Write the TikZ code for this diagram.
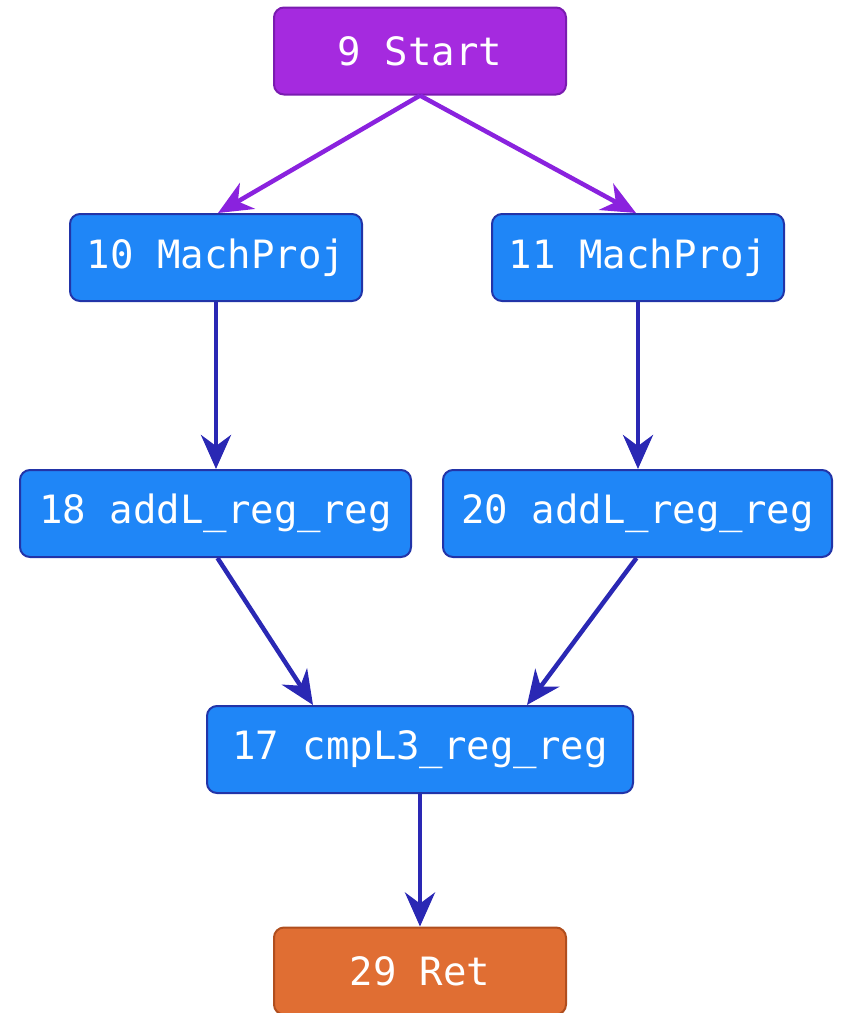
\documentclass[tikz,border=0pt]{standalone}
\usepackage{fontspec}
\setmonofont{DejaVu Sans Mono}
\usetikzlibrary{arrows.meta}
\definecolor{blockfill}{HTML}{1F86F7}
\definecolor{blockline}{HTML}{2234A8}
\definecolor{startfill}{HTML}{A52ADF}
\definecolor{startline}{HTML}{7A1CB0}
\definecolor{retfill}{HTML}{E06E33}
\definecolor{retline}{HTML}{B04E1E}
\definecolor{flowedge}{HTML}{2A28B4}
\definecolor{ctrledge}{HTML}{8A22DE}
\tikzset{
  block/.style={draw=blockline, fill=blockfill, line width=2pt, rounded corners=10pt,
    minimum height=87pt, inner sep=0pt, text=white,
    font=\ttfamily\fontsize{39}{44}\selectfont},
  startblock/.style={block, draw=startline, fill=startfill},
  retblock/.style={block, draw=retline, fill=retfill},
  edge/.style={draw=flowedge, line width=4.5pt,
    -{Stealth[length=34pt, width=30pt, inset=11pt]}},
  ctrl/.style={edge, draw=ctrledge},
}
\begin{document}
\begin{tikzpicture}[x=1pt, y=-1pt]
\useasboundingbox (0,0) rectangle (843,1013);
\node[startblock, minimum width=292pt] (s9) at (420,51) {9 Start};
\node[block, minimum width=292pt] (m10) at (216,257.5) {10 MachProj};
\node[block, minimum width=292pt] (m11) at (638,257.5) {11 MachProj};
\node[block, minimum width=391pt] (a18) at (215.5,513.5) {18 addL\_reg\_reg};
\node[block, minimum width=389pt] (a20) at (637.5,513.5) {20 addL\_reg\_reg};
\node[block, minimum width=426pt] (c17) at (420,749.5) {17 cmpL3\_reg\_reg};
\node[retblock, minimum width=292pt] (r29) at (420,971) {29 Ret};

\draw[ctrl] (s9.south) -- ([xshift=2pt]m10.north);
\draw[ctrl] (s9.south) -- ([xshift=-2pt]m11.north);
\draw[edge] (m10.south) -- (a18.north -| m10.south);
\draw[edge] (m11.south) -- (a20.north -| m11.south);
\draw[edge] ([xshift=2pt]a18.south) -- ([xshift=-107pt]c17.north);
\draw[edge] ([xshift=-1pt]a20.south) -- ([xshift=107pt]c17.north);
\draw[edge] (c17.south) -- (r29.north);
\end{tikzpicture}
\end{document}
